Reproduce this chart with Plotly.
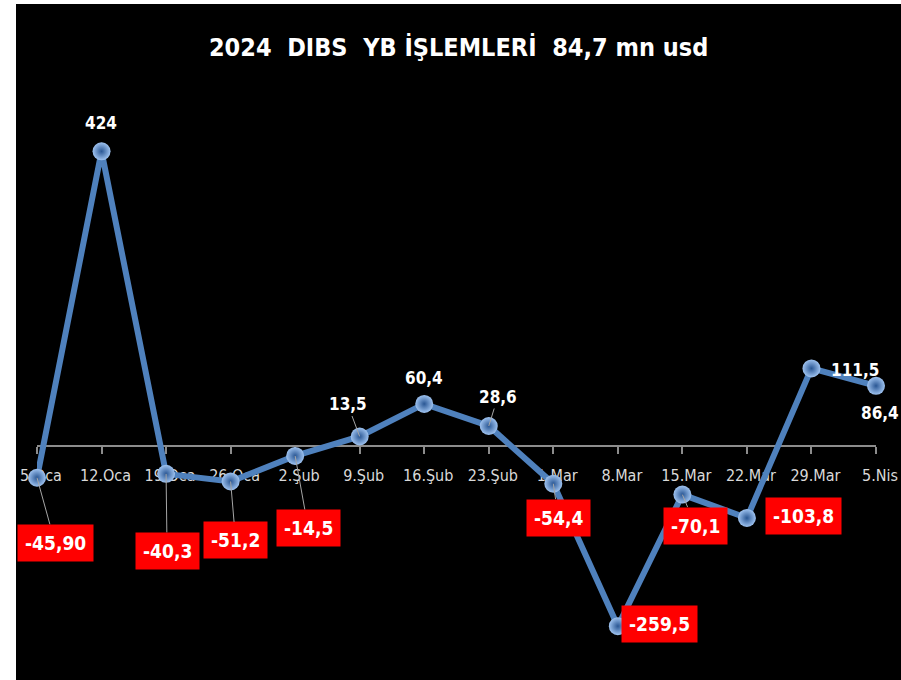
import plotly.graph_objects as go

# weekly data from the chart
weeks = ["5.Oca", "12.Oca", "19.Oca", "26.Oca", "2.Şub", "9.Şub", "16.Şub",
         "23.Şub", "1.Mar", "8.Mar", "15.Mar", "22.Mar", "29.Mar", "5.Nis"]
values = [-45.9, 424, -40.3, -51.2, -14.5, 13.5, 60.4,
          28.6, -54.4, -259.5, -70.1, -103.8, 111.5, 86.4]
value_labels = ["-45,90", "424", "-40,3", "-51,2", "-14,5", "13,5", "60,4",
                "28,6", "-54,4", "-259,5", "-70,1", "-103,8", "111,5", "86,4"]

title_text = "2024\u00a0\u00a0DIBS\u00a0\u00a0YB İŞLEMLERİ\u00a0\u00a084,7 mn usd"

# label placement (pixel offset from the point, draw leader line?)
label_pos = [(18, 65, True), (-1, -28, False), (1, 77, True), (5, 59, True),
             (13, 72, True), (-12, -32, True), (0, -26, False), (9, -29, True),
             (5, 34, True), (42, -2, False), (13, 31, True), (57, -2, False),
             (44, 2, False), (4, 27, False)]

font_name = "DejaVu Sans Condensed, Roboto Condensed, Roboto, sans-serif"
y_min, y_max = -337, 636
l_m, r_m, t_m, b_m = 37, 25, 4, 0
W, H = 901, 680
plot_w = W - l_m - r_m

fig = go.Figure()
fig.add_trace(go.Scatter(
    x=weeks, y=values, mode="lines+markers",
    line=dict(color="#4f81bd", width=6),
    marker=dict(size=18, color="#9fc3f0",
                gradient=dict(type="radial", color="#2a5794"),
                line=dict(width=0)),
    cliponaxis=False, hoverinfo="x+y", showlegend=False
))

for wk, val, txt, (dx, dy, leader) in zip(weeks, values, value_labels, label_pos):
    negative = val < 0
    ann = dict(x=wk, y=val, text="<b>" + txt + "</b>",
               font=dict(family=font_name, size=19 if negative else 17,
                         color="white"))
    if negative:
        ann.update(bgcolor="#ff0000", borderpad=7)
    if leader:
        ann.update(showarrow=True, ax=dx, ay=dy, arrowhead=0, arrowwidth=1,
                   arrowcolor="#a6a6a6")
    else:
        ann.update(showarrow=False, xshift=dx, yshift=-dy)
    fig.add_annotation(**ann)

fig.add_shape(type="rect", xref="paper", yref="paper",
              x0=(16 - l_m) / plot_w, x1=(W - l_m) / plot_w, y0=0, y1=1,
              fillcolor="black", line=dict(width=0), layer="below")

fig.update_layout(
    width=W, height=H,
    margin=dict(l=l_m, r=r_m, t=t_m, b=b_m),
    paper_bgcolor="white", plot_bgcolor="rgba(0,0,0,0)",
    title=dict(text="<b>" + title_text + "</b>", x=0.509, xanchor="center",
               y=1 - 47 / H, yanchor="middle",
               font=dict(family=font_name, size=25, color="white")),
    xaxis=dict(type="category", range=[0, 13], anchor="free",
               position=(0 - y_min) / (y_max - y_min),
               showline=True, linecolor="#8c8c8c", linewidth=2,
               ticks="outside", ticklen=7, tickcolor="#8c8c8c", tickwidth=2,
               ticklabelstandoff=8, ticklabelshift=4,
               showgrid=False, zeroline=False, layer="below traces",
               tickfont=dict(family=font_name, size=16, color="#d9d9d9")),
    yaxis=dict(range=[y_min, y_max], visible=False, showgrid=False,
               zeroline=False),
)

# drop the default page margin so the figure sits at the window's corner
fig.write_html("out.html", config={"displayModeBar": False},
               post_script="document.body.style.margin = '0';")
